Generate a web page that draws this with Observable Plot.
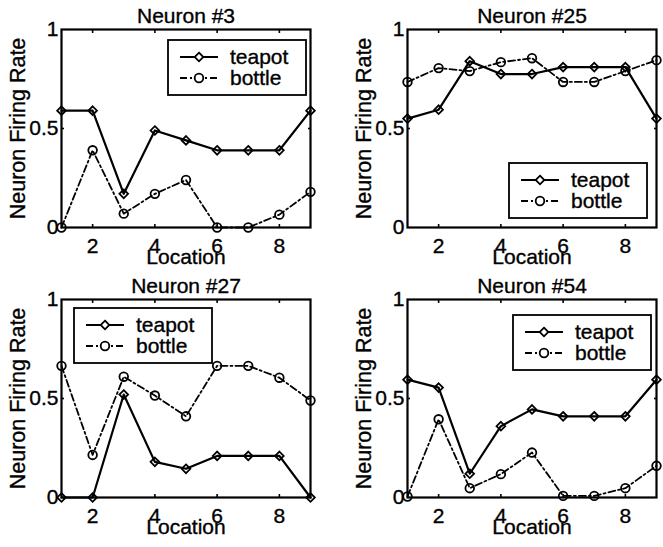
<!DOCTYPE html>
<html><head><meta charset="utf-8">
<script src="https://cdn.jsdelivr.net/npm/d3@7"></script>
<script src="https://cdn.jsdelivr.net/npm/@observablehq/plot@0.6"></script>
<style>
body{margin:0;background:#fff;}
#fig{position:relative;width:663px;height:547px;background:#fff;font-family:"Liberation Sans",Arial,Helvetica,sans-serif;}
.panel{position:absolute;width:317px;height:272px;}
.panel svg{overflow:visible;}
.panel svg text{stroke:black;stroke-width:0.35px;}
.legend{position:absolute;overflow:visible;}
</style></head><body><div id="fig"></div>
<script>
// ---- data ----
const locations = [1, 2, 3, 4, 5, 6, 7, 8, 9];
const titles = ["Neuron #3", "Neuron #25", "Neuron #27", "Neuron #54"];
const seriesNames = ["teapot", "bottle"];
const teapot3  = [0.59, 0.59, 0.17, 0.49, 0.44, 0.39, 0.39, 0.39, 0.59];
const bottle3  = [0.00, 0.39, 0.07, 0.17, 0.24, 0.00, 0.00, 0.065, 0.18];
const teapot25 = [0.55, 0.595, 0.84, 0.775, 0.775, 0.81, 0.81, 0.81, 0.55];
const bottle25 = [0.735, 0.805, 0.79, 0.835, 0.855, 0.735, 0.735, 0.79, 0.845];
const teapot27 = [0.00, 0.00, 0.52, 0.18, 0.145, 0.21, 0.21, 0.21, 0.00];
const bottle27 = [0.665, 0.215, 0.61, 0.515, 0.41, 0.665, 0.665, 0.605, 0.49];
const teapot54 = [0.595, 0.555, 0.12, 0.36, 0.445, 0.41, 0.41, 0.41, 0.595];
const bottle54 = [0.005, 0.395, 0.047, 0.118, 0.227, 0.008, 0.008, 0.047, 0.16];
const xTicks = [2, 4, 6, 8];
const yTicks = [0, 0.5, 1];
const yTickLabels = ["0", "0.5", "1"];
const xLabel = "Location";
const yLabel = "Neuron Firing Rate";

// ---- layout ----
const panels = [
  {title: titles[0], teapot: teapot3,  bottle: bottle3,  left: 0,   top: 0,   legend: [168, 40]},
  {title: titles[1], teapot: teapot25, bottle: bottle25, left: 346, top: 0,   legend: [163, 163]},
  {title: titles[2], teapot: teapot27, bottle: bottle27, left: 0,   top: 270, legend: [74, 38]},
  {title: titles[3], teapot: teapot54, bottle: bottle54, left: 346, top: 270, legend: [167, 45]}
];
const FONT = '"Liberation Sans", Arial, Helvetica, sans-serif';
const FS = 21;
const DASH = "7,3,2,3";
const fig = document.getElementById("fig");

function toRows(values) { return locations.map((x, i) => ({x, y: values[i]})); }

for (const p of panels) {
  const div = document.createElement("div");
  div.className = "panel";
  div.style.left = p.left + "px";
  div.style.top = p.top + "px";
  fig.appendChild(div);
  const tRows = toRows(p.teapot), bRows = toRows(p.bottle);
  const chart = Plot.plot({
    width: 317, height: 272,
    marginLeft: 61, marginRight: 7, marginTop: 29, marginBottom: 45,
    style: {fontFamily: FONT, fontSize: FS + "px", color: "black", background: "transparent", overflow: "visible"},
    x: {domain: [1, 9], label: null},
    y: {domain: [0, 1], label: null},
    marks: [
      Plot.line(bRows, {x: "x", y: "y", stroke: "black", strokeWidth: 1.8, strokeDasharray: DASH}),
      Plot.line(tRows, {x: "x", y: "y", stroke: "black", strokeWidth: 2.2}),
      Plot.dot(bRows, {x: "x", y: "y", symbol: "circle", r: 4.3, stroke: "black", strokeWidth: 1.8, fill: "none"}),
      Plot.dot(tRows, {x: "x", y: "y", symbol: "diamond2", r: 3.9, stroke: "black", strokeWidth: 1.8, fill: "none"}),
      Plot.frame({stroke: "black", strokeWidth: 2.2}),
      Plot.axisX(xTicks, {anchor: "bottom", tickSize: 3, dy: -3, strokeWidth: 1.6, tickFormat: () => "", label: null}),
      Plot.axisX(xTicks, {anchor: "top", tickSize: 3, dy: 3, strokeWidth: 1.6, tickFormat: () => "", label: null}),
      Plot.axisY([0.5], {anchor: "left", tickSize: 3, dx: 3, strokeWidth: 1.6, tickFormat: () => "", label: null}),
      Plot.axisY([0.5], {anchor: "right", tickSize: 3, dx: -3, strokeWidth: 1.6, tickFormat: () => "", label: null}),
      Plot.axisX(xTicks, {anchor: "bottom", tickSize: 0, tickPadding: 11, fontSize: FS, tickFormat: d => String(d), label: null}),
      Plot.axisY(yTicks, {anchor: "left", tickSize: 0, tickPadding: 3, fontSize: FS, tickFormat: d => yTickLabels[yTicks.indexOf(d)], label: null}),
      Plot.text([p.title], {text: d => d, frameAnchor: "top", textAnchor: "middle", lineAnchor: "bottom", dy: -7, fontSize: FS, fill: "black"}),
      Plot.text([xLabel], {text: d => d, frameAnchor: "bottom", textAnchor: "middle", lineAnchor: "bottom", dy: 36, fontSize: FS, fill: "black"}),
      Plot.text([yLabel], {text: d => d, frameAnchor: "left", textAnchor: "middle", lineAnchor: "bottom", rotate: -90, dx: -37, fontSize: 21.5, fill: "black"})
    ]
  });
  div.appendChild(chart);

  // legend box
  const w = 138, h = 55;
  const svg = d3.select(div).append("svg").attr("class", "legend")
    .style("left", (p.legend[0] - 1) + "px").style("top", (p.legend[1] - 1) + "px")
    .attr("width", w + 2).attr("height", h + 2);
  svg.append("rect").attr("x", 1).attr("y", 1).attr("width", w).attr("height", h)
    .attr("fill", "white").attr("stroke", "black").attr("stroke-width", 1.8);
  const rowsY = [18, 39];
  seriesNames.forEach((name, i) => {
    const g = svg.append("g").attr("transform", `translate(1,${rowsY[i]})`);
    g.append("line").attr("x1", 12).attr("x2", 50).attr("y1", 0).attr("y2", 0)
      .attr("stroke", "black").attr("stroke-width", i === 0 ? 2.2 : 1.8)
      .attr("stroke-dasharray", i === 0 ? null : DASH);
    const sym = i === 0 ? d3.symbolDiamond2 : d3.symbolCircle;
    const r = i === 0 ? 3.9 : 4.3;
    g.append("path").attr("transform", "translate(31,0)")
      .attr("d", d3.symbol(sym, Math.PI * r * r)())
      .attr("fill", "white").attr("stroke", "black").attr("stroke-width", 1.8);
    g.append("text").attr("x", 62).attr("y", 0).attr("dy", "0.35em")
      .attr("font-family", FONT).attr("font-size", FS).attr("fill", "black").text(name);
  });
}
</script>
</body></html>
